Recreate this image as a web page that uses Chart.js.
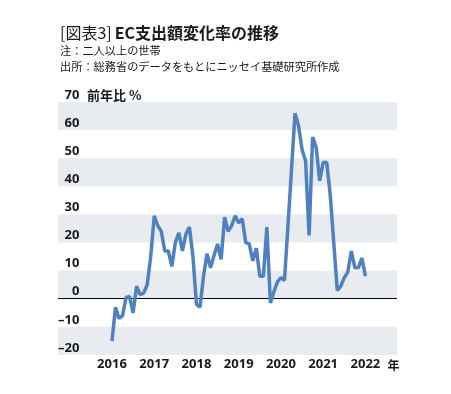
<!DOCTYPE html>
<html lang="ja">
<head>
<meta charset="utf-8">
<script src="https://cdn.jsdelivr.net/npm/chart.js@4.4.1/dist/chart.umd.min.js"></script>
<style>
  html, body { margin: 0; padding: 0; background: #fff; }
  #wrap { position: relative; width: 451px; height: 394px; overflow: hidden; }
  #chart { position: absolute; left: 0; top: 0; }
  .head { position: absolute; left: 60px; top: 22px; font-family: "Noto Sans CJK JP", sans-serif; color: #1a1a1a; }
  .title { font-size: 16px; line-height: 20px; white-space: nowrap; }
  .title b { font-weight: 700; margin-left: 3px; }
  .note { font-size: 11.2px; line-height: 16px; white-space: nowrap; }
</style>
</head>
<body>
<div id="wrap">
  <canvas id="chart" width="451" height="394"></canvas>
  <div class="head">
    <div class="title">[図表3]<b>EC支出額変化率の推移</b></div>
    <div class="note">注：二人以上の世帯</div>
    <div class="note">出所：総務省のデータをもとにニッセイ基礎研究所作成</div>
  </div>
</div>
<script>
// monthly, Jan 2016 .. Jan 2022
const years = ['2016', '2017', '2018', '2019', '2020', '2021', '2022'];
const growth = [
  -15, -3, -7, -6, 0.5, 0.8, -5, 4.5, 1.5, 2, 5, 15,
  29.5, 26, 24, 17, 17, 11.5, 20, 23.5, 17, 23, 25.5, 15,
  -2, -3, 8, 16, 11, 15.5, 19.5, 14, 29, 24, 26, 29.5,
  27, 28.5, 20, 19.5, 13.5, 18, 8, 8, 25.5, -1.5, 2.5, 6,
  7.5, 6.5, 26, 46, 66, 61.5, 53, 49, 22.5, 57.5, 54, 42,
  48.5, 48.5, 37, 20, 3, 4.5, 7.5, 9.5, 17, 11, 11, 14.5,
  8
];
const yTicks = [-20, -10, 0, 10, 20, 30, 40, 50, 60, 70];
const bandStarts = [-20, 0, 20, 40, 60];

const points = growth.map((v, i) => ({ x: i, y: v }));
const tickFont = { family: "'Noto Sans', 'Noto Sans CJK JP', sans-serif", size: 13, weight: 'bold' };
const textColor = '#1a1a1a';

const extras = {
  id: 'extras',
  beforeDraw(chart) {
    const { ctx, chartArea, scales: { y } } = chart;
    ctx.save();
    ctx.fillStyle = '#e8ebef';
    bandStarts.forEach(b => {
      const top = y.getPixelForValue(b + 10);
      const bottom = y.getPixelForValue(b);
      ctx.fillRect(chartArea.left, top, chartArea.right - chartArea.left, bottom - top);
    });
    ctx.restore();
  },
  afterDraw(chart) {
    const { ctx, scales: { x, y } } = chart;
    ctx.save();
    ctx.fillStyle = textColor;
    ctx.textBaseline = 'middle';
    ctx.font = "bold 13px 'Noto Sans CJK JP', sans-serif";
    ctx.fillText('前年比 %', 87, y.getPixelForValue(70) - 7);
    ctx.font = "bold 12px 'Noto Sans CJK JP', sans-serif";
    ctx.fillText('年', x.getPixelForValue(72) + 22, x.top + 10);
    ctx.restore();
  }
};

new Chart(document.getElementById('chart'), {
  type: 'line',
  data: {
    datasets: [{
      data: points,
      borderColor: '#4f81c1',
      borderWidth: 3.5,
      borderJoinStyle: 'bevel',
      pointRadius: 0,
      tension: 0,
      fill: false
    }]
  },
  options: {
    responsive: false,
    animation: false,
    layout: { padding: { left: 58, right: 54, top: 102, bottom: 0 } },
    plugins: { legend: { display: false }, tooltip: { enabled: false } },
    scales: {
      x: {
        type: 'linear',
        min: -15.34,
        max: 80.97,
        grid: { display: false },
        border: { display: false },
        afterBuildTicks: s => { s.ticks = years.map((_, i) => ({ value: i * 12 })); },
        afterFit: s => { s.height = 39; },
        ticks: {
          autoSkip: false,
          maxRotation: 0,
          padding: -7,
          font: tickFont,
          color: textColor,
          callback: v => years[v / 12]
        }
      },
      y: {
        min: -20,
        max: 70,
        afterBuildTicks: s => { s.ticks = yTicks.map(v => ({ value: v })); },
        afterFit: s => { s.width = 0; },
        border: { display: false },
        grid: {
          drawTicks: false,
          lineWidth: 1,
          color: c => (c.tick && c.tick.value === 0) ? '#000' : 'rgba(0,0,0,0)'
        },
        ticks: {
          mirror: true,
          crossAlign: 'far',
          padding: 0,
          labelOffset: -7,
          font: tickFont,
          color: textColor,
          callback: v => v < 0 ? '–' + (-v) : String(v)
        }
      }
    }
  },
  plugins: [extras]
});
</script>
</body>
</html>
